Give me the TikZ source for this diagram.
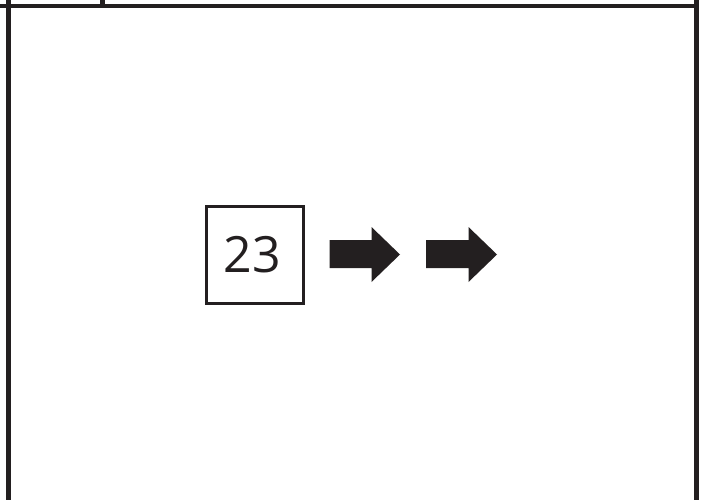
\documentclass[tikz,border=0pt]{standalone}
\usepackage{fontspec}
\setmainfont{Open Sans}
\definecolor{ink}{HTML}{231F20}
\begin{document}
\begin{tikzpicture}[x=1pt,y=-1pt,
  frame/.style={draw=ink,line width=4.5pt},
  numbox/.style={draw=ink,line width=3.3pt,minimum width=97pt,minimum height=97pt,inner sep=0pt,text=ink},
  numtext/.style={font=\fontsize{50}{54}\selectfont,text=ink,inner sep=0pt},
  blockarrow/.style={fill=ink,draw=none}]
\useasboundingbox (0,0) rectangle (704,500);
\coordinate (tl) at (0,6);
\coordinate (tr) at (699,6);
\coordinate (lt) at (8.5,0);
\coordinate (lb) at (8.5,500);
\coordinate (rt) at (696.5,0);
\coordinate (rb) at (696.5,500);
\coordinate (tt) at (102.5,0);
\coordinate (tb) at (102.5,6);
\draw[frame,line width=4pt] (tl) -- (tr);
\draw[frame] (lt) -- (lb);
\draw[frame] (rt) -- (rb);
\draw[frame] (tt) -- (tb);
\node[numbox] (n23) at (255,255) {};
\node[numtext] (t23) at (252,254.5) {23};
\fill[blockarrow] (329.5,240) -- (371.5,240) -- (371.5,227) -- (400,254.5) -- (371.5,282) -- (371.5,268) -- (329.5,268) -- cycle;
\fill[blockarrow] (426,240) -- (468.5,240) -- (468.5,227) -- (497,254.5) -- (468.5,282) -- (468.5,268) -- (426,268) -- cycle;
\end{tikzpicture}
\end{document}
